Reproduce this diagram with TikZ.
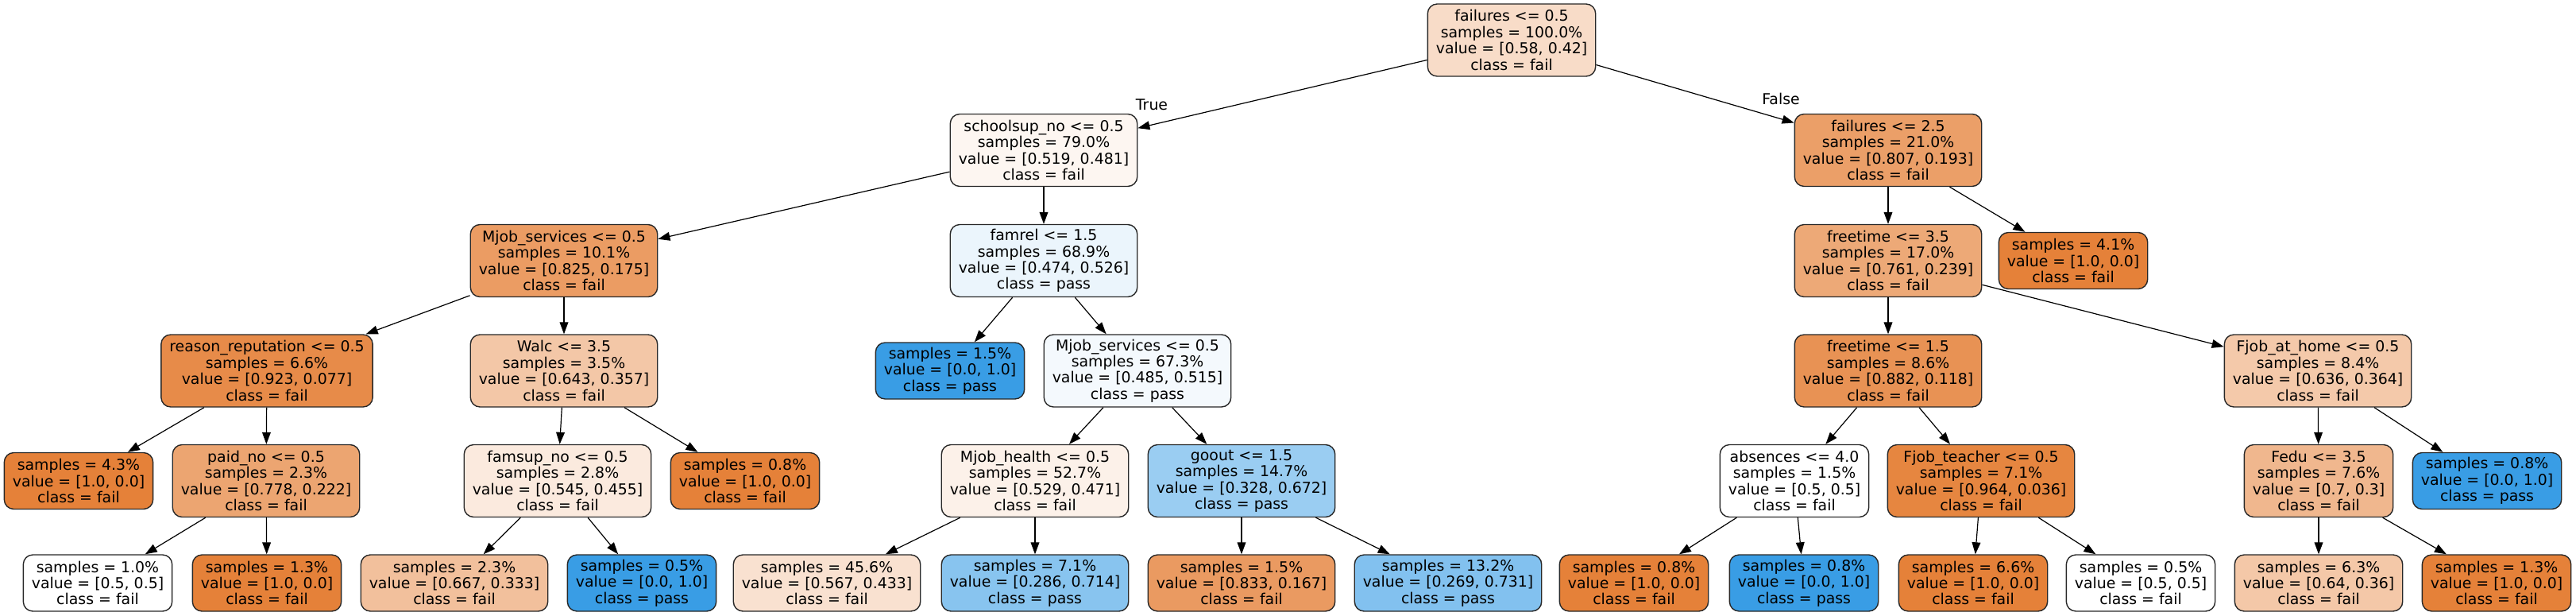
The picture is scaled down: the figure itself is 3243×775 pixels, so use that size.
\documentclass[tikz,border=0pt]{standalone}
\usepackage{fontspec}
\setmainfont{DejaVu Sans}
\usetikzlibrary{arrows.meta}
\definecolor{failc}{RGB}{229,129,57}
\definecolor{passc}{RGB}{57,157,229}
\definecolor{bordc}{RGB}{40,40,40}
\begin{document}
\begin{tikzpicture}[x=0.5pt,y=-0.5pt,
  every node/.style={font=\fontsize{9.45}{10.2}\selectfont},
  dtnode/.style={draw=bordc,line width=0.7pt,rounded corners=6pt,align=center,inner xsep=5.25pt,inner ysep=0pt,minimum height=45.5pt},
  dtleaf/.style={dtnode,minimum height=35.5pt},
  dtedge/.style={line width=0.6pt,-{Triangle[length=7.5pt,width=5.4pt]}},
  edgelab/.style={inner sep=0pt}]
\useasboundingbox (0,0) rectangle (3243,775);
% row 0
\node[dtnode,fill=failc!27.6!white] (n0) at (1903,50.5) {failures <= 0.5\\samples = 100.0\%\\value = [0.58, 0.42]\\class = fail};
% row 1
\node[dtnode,fill=failc!7.3!white] (n1) at (1314,189) {schoolsup\_no <= 0.5\\samples = 79.0\%\\value = [0.519, 0.481]\\class = fail};
\node[dtnode,fill=failc!76.1!white] (n2) at (2377,189) {failures <= 2.5\\samples = 21.0\%\\value = [0.807, 0.193]\\class = fail};
% row 2
\node[dtnode,fill=failc!78.8!white] (n3) at (710,328) {Mjob\_services <= 0.5\\samples = 10.1\%\\value = [0.825, 0.175]\\class = fail};
\node[dtnode,fill=passc!9.9!white] (n4) at (1314,328) {famrel <= 1.5\\samples = 68.9\%\\value = [0.474, 0.526]\\class = pass};
\node[dtnode,fill=failc!68.6!white] (n5) at (2377,328) {freetime <= 3.5\\samples = 17.0\%\\value = [0.761, 0.239]\\class = fail};
\node[dtleaf,fill=failc] (n6) at (2610,328) {samples = 4.1\%\\value = [1.0, 0.0]\\class = fail};
% row 3
\node[dtnode,fill=failc!91.7!white] (n7) at (336,466.5) {reason\_reputation <= 0.5\\samples = 6.6\%\\value = [0.923, 0.077]\\class = fail};
\node[dtnode,fill=failc!44.5!white] (n8) at (710,466.5) {Walc <= 3.5\\samples = 3.5\%\\value = [0.643, 0.357]\\class = fail};
\node[dtleaf,fill=passc] (n9) at (1196,466.5) {samples = 1.5\%\\value = [0.0, 1.0]\\class = pass};
\node[dtnode,fill=passc!5.8!white] (n10) at (1432,466.5) {Mjob\_services <= 0.5\\samples = 67.3\%\\value = [0.485, 0.515]\\class = pass};
\node[dtnode,fill=failc!86.6!white] (n11) at (2377,466.5) {freetime <= 1.5\\samples = 8.6\%\\value = [0.882, 0.118]\\class = fail};
\node[dtnode,fill=failc!42.8!white] (n12) at (2918,466.5) {Fjob\_at\_home <= 0.5\\samples = 8.4\%\\value = [0.636, 0.364]\\class = fail};
% row 4
\node[dtleaf,fill=failc] (n13) at (99,605) {samples = 4.3\%\\value = [1.0, 0.0]\\class = fail};
\node[dtnode,fill=failc!71.5!white] (n14) at (335,605) {paid\_no <= 0.5\\samples = 2.3\%\\value = [0.778, 0.222]\\class = fail};
\node[dtnode,fill=failc!16.5!white] (n15) at (702,605) {famsup\_no <= 0.5\\samples = 2.8\%\\value = [0.545, 0.455]\\class = fail};
\node[dtleaf,fill=failc] (n16) at (938,605) {samples = 0.8\%\\value = [1.0, 0.0]\\class = fail};
\node[dtnode,fill=failc!11.0!white] (n17) at (1303,605) {Mjob\_health <= 0.5\\samples = 52.7\%\\value = [0.529, 0.471]\\class = fail};
\node[dtnode,fill=passc!51.2!white] (n18) at (1563,605) {goout <= 1.5\\samples = 14.7\%\\value = [0.328, 0.672]\\class = pass};
\node[dtnode,fill=white] (n19) at (2259,605) {absences <= 4.0\\samples = 1.5\%\\value = [0.5, 0.5]\\class = fail};
\node[dtnode,fill=failc!96.3!white] (n20) at (2494,605) {Fjob\_teacher <= 0.5\\samples = 7.1\%\\value = [0.964, 0.036]\\class = fail};
\node[dtnode,fill=failc!57.1!white] (n21) at (2919,605) {Fedu <= 3.5\\samples = 7.6\%\\value = [0.7, 0.3]\\class = fail};
\node[dtleaf,fill=passc] (n22) at (3131,605) {samples = 0.8\%\\value = [0.0, 1.0]\\class = pass};
% row 5
\node[dtleaf,fill=white] (n23) at (123,733.5) {samples = 1.0\%\\value = [0.5, 0.5]\\class = fail};
\node[dtleaf,fill=failc] (n24) at (336,733.5) {samples = 1.3\%\\value = [1.0, 0.0]\\class = fail};
\node[dtleaf,fill=failc!50.1!white] (n25) at (572,733.5) {samples = 2.3\%\\value = [0.667, 0.333]\\class = fail};
\node[dtleaf,fill=passc] (n26) at (808,733.5) {samples = 0.5\%\\value = [0.0, 1.0]\\class = pass};
\node[dtleaf,fill=failc!23.6!white] (n27) at (1041,733.5) {samples = 45.6\%\\value = [0.567, 0.433]\\class = fail};
\node[dtleaf,fill=passc!59.9!white] (n28) at (1303,733.5) {samples = 7.1\%\\value = [0.286, 0.714]\\class = pass};
\node[dtleaf,fill=failc!80.0!white] (n29) at (1563,733.5) {samples = 1.5\%\\value = [0.833, 0.167]\\class = fail};
\node[dtleaf,fill=passc!63.2!white] (n30) at (1823,733.5) {samples = 13.2\%\\value = [0.269, 0.731]\\class = pass};
\node[dtleaf,fill=failc] (n31) at (2057,733.5) {samples = 0.8\%\\value = [1.0, 0.0]\\class = fail};
\node[dtleaf,fill=passc] (n32) at (2271,733.5) {samples = 0.8\%\\value = [0.0, 1.0]\\class = pass};
\node[dtleaf,fill=failc] (n33) at (2484,733.5) {samples = 6.6\%\\value = [1.0, 0.0]\\class = fail};
\node[dtleaf,fill=white] (n34) at (2695,733.5) {samples = 0.5\%\\value = [0.5, 0.5]\\class = fail};
\node[dtleaf,fill=failc!43.75!white] (n35) at (2919,733.5) {samples = 6.3\%\\value = [0.64, 0.36]\\class = fail};
\node[dtleaf,fill=failc] (n36) at (3143,733.5) {samples = 1.3\%\\value = [1.0, 0.0]\\class = fail};
% labels
\node[edgelab] (tl) at (1450,132) {True};
\node[edgelab] (fl) at (2242,124) {False};
% edges
\draw[dtedge] (n0) -- (n1);
\draw[dtedge] (n0) -- (n2);
\draw[dtedge] (n1) -- (n3);
\draw[dtedge] (n1) -- (n4);
\draw[dtedge] (n2) -- (n5);
\draw[dtedge] (n2) -- (n6);
\draw[dtedge] (n3) -- (n7);
\draw[dtedge] (n3) -- (n8);
\draw[dtedge] (n4) -- (n9);
\draw[dtedge] (n4) -- (n10);
\draw[dtedge] (n5) -- (n11);
\draw[dtedge] (n5) -- (n12);
\draw[dtedge] (n7) -- (n13);
\draw[dtedge] (n7) -- (n14);
\draw[dtedge] (n8) -- (n15);
\draw[dtedge] (n8) -- (n16);
\draw[dtedge] (n10) -- (n17);
\draw[dtedge] (n10) -- (n18);
\draw[dtedge] (n11) -- (n19);
\draw[dtedge] (n11) -- (n20);
\draw[dtedge] (n12) -- (n21);
\draw[dtedge] (n12) -- (n22);
\draw[dtedge] (n14) -- (n23);
\draw[dtedge] (n14) -- (n24);
\draw[dtedge] (n15) -- (n25);
\draw[dtedge] (n15) -- (n26);
\draw[dtedge] (n17) -- (n27);
\draw[dtedge] (n17) -- (n28);
\draw[dtedge] (n18) -- (n29);
\draw[dtedge] (n18) -- (n30);
\draw[dtedge] (n19) -- (n31);
\draw[dtedge] (n19) -- (n32);
\draw[dtedge] (n20) -- (n33);
\draw[dtedge] (n20) -- (n34);
\draw[dtedge] (n21) -- (n35);
\draw[dtedge] (n21) -- (n36);
\end{tikzpicture}
\end{document}
